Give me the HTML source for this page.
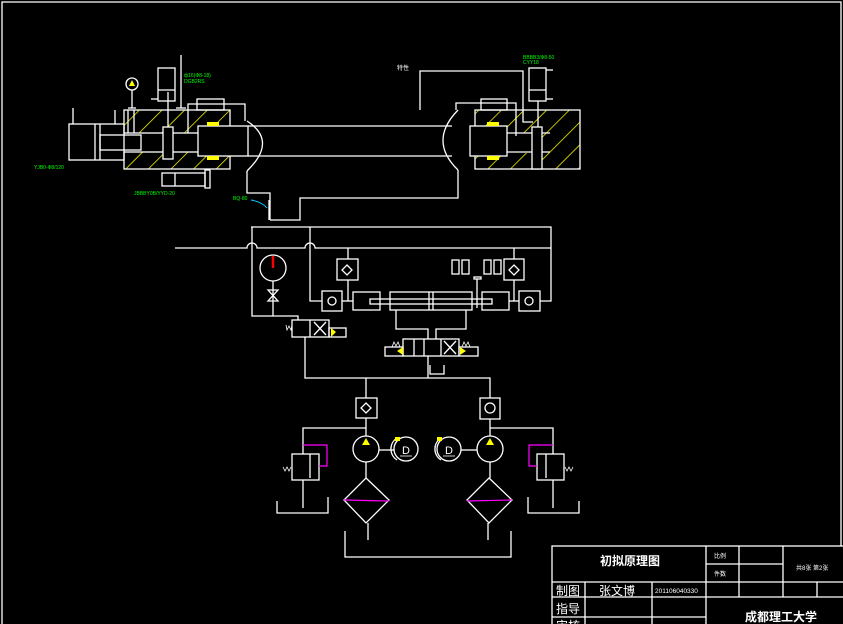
<!DOCTYPE html>
<html><head><meta charset="utf-8"><style>
html,body{margin:0;padding:0;background:#000;}
svg{display:block;}
text{font-family:"Liberation Sans","Noto Sans CJK SC",sans-serif;}
</style></head><body>
<svg width="843" height="624" viewBox="0 0 843 624" xmlns="http://www.w3.org/2000/svg">
<defs>
<pattern id="h" patternUnits="userSpaceOnUse" width="16" height="16" patternTransform="rotate(45)">
<line x1="0" y1="0" x2="0" y2="16" stroke="#ff0" stroke-width="1.5"/>
</pattern>
</defs>
<rect width="843" height="624" fill="#000"/>
<g fill="none" stroke="#fff" stroke-width="1.3">
<polyline points="2,624 2,2 841,2 841,546"/>
<rect x="69" y="124" width="55" height="36"/>
<line x1="95" y1="124" x2="95" y2="160"/><line x1="100" y1="124" x2="100" y2="160"/>
<rect x="100" y="135" width="41" height="15"/>
<line x1="73" y1="108" x2="73" y2="124"/><line x1="115" y1="110" x2="115" y2="124"/>
<rect x="124" y="110" width="106" height="23" fill="url(#h)"/>
<rect x="124" y="152" width="106" height="17" fill="url(#h)"/>
<rect x="163" y="127" width="10" height="32" fill="#000"/>
<line x1="168" y1="92" x2="168" y2="127"/>
<rect x="158" y="68" width="17" height="33"/><line x1="158" y1="90" x2="175" y2="90"/>
<line x1="151" y1="99" x2="158" y2="99"/>
<line x1="181" y1="55" x2="181" y2="108"/><line x1="176" y1="108" x2="186" y2="108"/>
<circle cx="132" cy="84" r="6"/><line x1="132" y1="90" x2="132" y2="108"/><line x1="128" y1="108" x2="136" y2="108"/>
<line x1="128" y1="110" x2="128" y2="133"/><line x1="134" y1="110" x2="134" y2="133"/>
<rect x="162" y="173" width="43" height="13"/><line x1="175" y1="173" x2="175" y2="186"/>
<rect x="205" y="170" width="5" height="18"/>
<rect x="197" y="99" width="27" height="11"/>
<polyline points="188,133 188,104 225,104 245,104 245,121"/>
<rect x="198" y="126" width="50" height="30" fill="#000"/>
<line x1="248" y1="126" x2="452" y2="126"/><line x1="248" y1="156" x2="452" y2="156"/>
<path d="M247,121 Q278,141 247,171"/>
<path d="M458,110 Q428,141 458,170"/>
<polyline points="247,171 247,193 270,193 270,220"/>
<polyline points="458,170 458,198 300,198 300,220 270,220"/>
<line x1="269" y1="200" x2="269" y2="220"/>
<rect x="475" y="110" width="105" height="59" fill="url(#h)"/>
<rect x="476" y="133" width="65" height="20" fill="#000" stroke="none"/>
<line x1="507" y1="133" x2="550" y2="133"/><line x1="507" y1="152" x2="550" y2="152"/>
<rect x="532" y="127" width="10" height="42" fill="#000"/>
<rect x="529" y="68" width="17" height="33"/><line x1="529" y1="90" x2="546" y2="90"/>
<line x1="538" y1="101" x2="538" y2="127"/><line x1="546" y1="70" x2="553" y2="70"/><line x1="546" y1="99" x2="553" y2="99"/>
<rect x="481" y="99" width="26" height="11"/>
<polyline points="456,110 456,103 516,103 516,136"/>
<polyline points="420,110 420,71 523,71 523,122 533,122"/>
<rect x="470" y="126" width="37" height="30" fill="#000"/>
<polyline points="251,227 551,227 551,301 540,301"/>
<path d="M175,248 L247,248 A5,5 0 0 1 257,248 L305,248 A5,5 0 0 1 315,248 L551,248"/>
<polyline points="252,227 252,316 298,316 298,320"/>
<polyline points="310,227 310,301 322,301"/>
<circle cx="273" cy="268" r="13"/>
<line x1="273" y1="281" x2="273" y2="316"/>
<path d="M268,290 L278,290 L268,301 L278,301 Z"/>
<rect x="337" y="259" width="21" height="21"/><rect x="504" y="259" width="20" height="21"/>
<rect x="322" y="291" width="20" height="20"/><rect x="519" y="291" width="21" height="20"/>
<path d="M347,265 l5,5 l-5,5 l-5,-5 z"/><path d="M514,265 l5,5 l-5,5 l-5,-5 z"/>
<circle cx="332" cy="301" r="4"/><circle cx="529" cy="301" r="4"/>
<line x1="348" y1="248" x2="348" y2="259"/><line x1="348" y1="280" x2="348" y2="301"/>
<line x1="514" y1="248" x2="514" y2="259"/><line x1="514" y1="280" x2="514" y2="301"/>
<line x1="342" y1="301" x2="353" y2="301"/><line x1="509" y1="301" x2="519" y2="301"/>
<rect x="353" y="292" width="27" height="18"/><rect x="390" y="292" width="82" height="18"/><rect x="482" y="292" width="27" height="18"/>
<rect x="370" y="299" width="122" height="5"/><line x1="429" y1="292" x2="429" y2="310"/><line x1="433" y1="292" x2="433" y2="310"/>
<rect x="452" y="260" width="7" height="14"/><rect x="462" y="260" width="7" height="14"/><rect x="484" y="260" width="7" height="14"/><rect x="494" y="260" width="7" height="14"/>
<rect x="474" y="277" width="7" height="2"/><line x1="477" y1="279" x2="477" y2="308"/>
<polyline points="396,310 396,329 428,329 428,339"/><polyline points="466,310 466,329 436,329 436,339"/>
<rect x="403" y="339" width="56" height="17"/>
<line x1="414" y1="339" x2="414" y2="356"/><line x1="424" y1="339" x2="424" y2="356"/><line x1="441" y1="339" x2="441" y2="356"/>
<path d="M444,341 L456,354 M456,341 L444,354"/>
<rect x="385" y="347" width="18" height="9"/><rect x="459" y="347" width="19" height="9"/>
<path d="M392,347 l2,-5 l2,4 l2,-4 l2,5 M462,347 l2,-5 l2,4 l2,-4 l2,5" stroke-width="0.8"/>
<line x1="428" y1="356" x2="428" y2="378"/>
<polyline points="430,365 430,374 444,374 444,365"/>
<rect x="292" y="320" width="37" height="17"/><line x1="310" y1="320" x2="310" y2="337"/>
<path d="M314,322 L326,335 M326,322 L314,335"/>
<path d="M286,325 l1,5 l2,-4 l2,4 l1,-5" stroke-width="0.8"/>
<rect x="329" y="328" width="17" height="9"/>
<polyline points="305,337 305,378 490,378 490,398"/>
<line x1="366" y1="378" x2="366" y2="398"/>
<rect x="356" y="398" width="21" height="20"/><rect x="480" y="398" width="20" height="21"/>
<path d="M366,403 l5,5 l-5,5 l-5,-5 z"/><circle cx="490" cy="408" r="5"/>
<line x1="366" y1="418" x2="366" y2="436"/><line x1="490" y1="419" x2="490" y2="436"/>
<polyline points="366,428 303,428 303,454"/><polyline points="490,428 553,428 553,454"/>
<circle cx="366" cy="449" r="13"/><circle cx="490" cy="449" r="13"/>
<circle cx="406" cy="449" r="12"/><circle cx="449" cy="449" r="12"/>
<path d="M397,438 A13,13 0 0 0 397,460"/><path d="M441,438 A13,13 0 0 0 441,460"/>
<line x1="379" y1="450" x2="394" y2="450"/><line x1="461" y1="450" x2="477" y2="450"/>
<line x1="400" y1="456" x2="412" y2="456" stroke-width="0.8"/><line x1="443" y1="456" x2="455" y2="456" stroke-width="0.8"/>
<line x1="366" y1="462" x2="366" y2="478"/><line x1="490" y1="462" x2="490" y2="478"/>
<path d="M366,478 L389,500 L366,523 L344,500 Z"/><path d="M489,478 L512,500 L489,523 L467,500 Z"/>
<line x1="368" y1="523" x2="368" y2="540"/><line x1="488" y1="523" x2="488" y2="540"/>
<polyline points="345,531 345,557 511,557 511,531"/>
<rect x="292" y="454" width="27" height="26"/><rect x="537" y="454" width="27" height="26"/>
<line x1="310" y1="454" x2="310" y2="478"/><line x1="546" y1="454" x2="546" y2="478"/>
<path d="M283,467 l2,4 l2,-4 l2,4 l2,-4 M565,467 l2,4 l2,-4 l2,4 l2,-4" stroke-width="0.8"/>
<line x1="303" y1="480" x2="303" y2="508"/><line x1="553" y1="480" x2="553" y2="508"/>
<polyline points="277,501 277,513 328,513 328,497"/><polyline points="528,497 528,513 579,513 579,501"/>
<rect x="552" y="546" width="292" height="80"/>
<line x1="552" y1="582" x2="843" y2="582"/><line x1="552" y1="597" x2="706" y2="597"/><line x1="552" y1="617" x2="706" y2="617"/>
<line x1="706" y1="564" x2="783" y2="564"/><line x1="706" y1="597" x2="843" y2="597"/>
<line x1="585" y1="582" x2="585" y2="624"/><line x1="652" y1="582" x2="652" y2="624"/>
<line x1="706" y1="546" x2="706" y2="624"/><line x1="739" y1="546" x2="739" y2="597"/>
<line x1="783" y1="546" x2="783" y2="597"/><line x1="817" y1="582" x2="817" y2="597"/>
</g>
<g fill="none" stroke="#f0f" stroke-width="1.2">
<polyline points="303,445 327,445 327,466 319,466"/>
<polyline points="553,445 529,445 529,466 537,466"/>
<line x1="344" y1="500" x2="389" y2="501"/><line x1="467" y1="501" x2="512" y2="500"/>
</g>
<g fill="#ff0">
<rect x="207" y="122" width="12" height="4"/><rect x="207" y="156" width="12" height="4"/>
<rect x="487" y="122" width="12" height="4"/><rect x="487" y="156" width="12" height="4"/>
<path d="M129,86 L132,80 L135,86 Z"/>
<path d="M362,445 L366,438 L370,445 Z"/><path d="M486,445 L490,438 L494,445 Z"/>
<rect x="395" y="437" width="5" height="4"/><rect x="437" y="437" width="5" height="4"/>
<path d="M397,351 L403,347 L403,355 Z"/><path d="M466,351 L460,347 L460,355 Z"/><path d="M336,332 L331,328 L331,337 Z"/>
</g>
<line x1="273" y1="268" x2="273" y2="256" stroke="#f00" stroke-width="2.5"/>
<path d="M251,200 Q262,202 267,208" stroke="#0cf" fill="none"/>
<!-- green labels (the real text was too small to read in the reference; these are placeholders) -->
<g fill="#0f0" font-size="5">
<text x="184" y="77">ф16(Ф8-18)</text><text x="184" y="83">DGB2RS</text>
<text x="34" y="169">YJB0-Ф8/120</text>
<text x="134" y="195">JBBBY0B/YYD-20</text>
<text x="233" y="200">BQ-80</text>
<text x="523" y="59">BBBB3/Ф8-50</text><text x="523" y="64">CYY18</text>
</g>
<text x="397" y="70" fill="#fff" font-size="6">特性</text>
<g fill="#fff" font-family="Liberation Serif, serif" font-size="11">
<text x="406" y="454" text-anchor="middle">D</text><text x="449" y="454" text-anchor="middle">D</text>
</g>
<g fill="#fff">
<text x="630" y="565" font-size="12" font-weight="bold" text-anchor="middle">初拟原理图</text>
<text x="714" y="558" font-size="6">比例</text><text x="714" y="576" font-size="6">件数</text>
<text x="796" y="570" font-size="6">共8张 第2张</text>
<text x="556" y="595" font-size="12">制图</text><text x="599" y="595" font-size="12">张文博</text>
<text x="655" y="593" font-size="6.5">201106040330</text>
<text x="556" y="613" font-size="12">指导</text>
<text x="556" y="630" font-size="12">审核</text>
<text x="745" y="621" font-size="12" font-weight="bold">成都理工大学</text>
</g>
</svg>
</body></html>
